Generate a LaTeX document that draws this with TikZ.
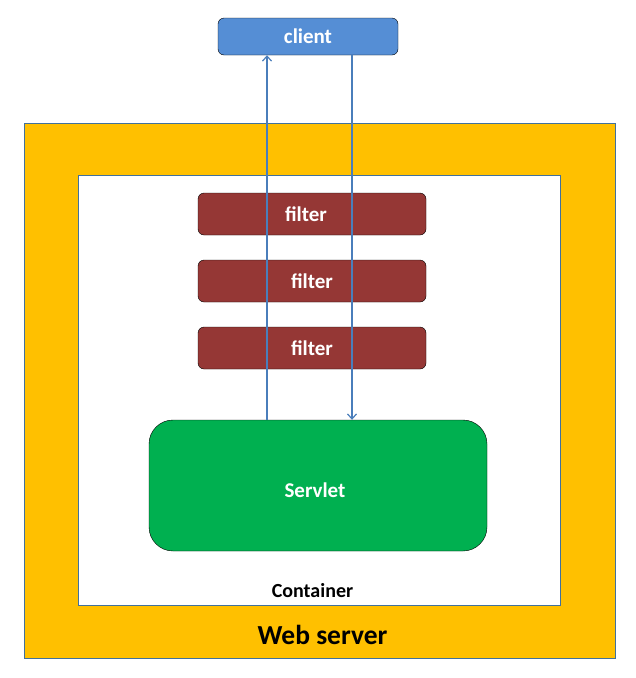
\documentclass[tikz,border=0pt]{standalone}
\usepackage{fontspec}
\setmainfont{Carlito}
\usetikzlibrary{arrows.meta}
\definecolor{clientblue}{HTML}{558ED5}
\definecolor{filterred}{HTML}{953735}
\definecolor{servletgreen}{HTML}{00B050}
\definecolor{serveryellow}{HTML}{FFC000}
\definecolor{edgeblue}{HTML}{41719C}
\definecolor{arrowblue}{HTML}{4A7EBB}
\begin{document}
\begin{tikzpicture}[x=1pt, y=-1pt,
    box/.style={draw=black, rounded corners=6pt, text=white, font=\bfseries\fontsize{21}{24}\selectfont, inner sep=0pt},
    filterbox/.style={box, fill=filterred, minimum width=228pt, minimum height=42pt},
    flow/.style={draw=arrowblue, line width=1.2pt, -{Straight Barb[length=5pt, width=9pt]}}]
    \useasboundingbox (0,0) rectangle (636,678);
    \draw[edgeblue, fill=serveryellow] (24,123) rectangle (615,658);
    \draw[edgeblue, fill=white] (78,175) rectangle (560,605);
    \node[box, fill=clientblue, minimum width=180pt, minimum height=37pt] (client) at (308,36.5) {client};
    \node[filterbox] (filter1) at (312,214) {\hspace*{-12pt}filter};
    \node[filterbox] (filter2) at (312,281) {filter};
    \node[filterbox] (filter3) at (312,348) {filter};
    \node[box, fill=servletgreen, rounded corners=24pt, minimum width=338pt, minimum height=131pt] (servlet) at (318,485.5) {\hspace*{-6pt}\raisebox{-5pt}[\height][\depth]{Servlet}};
    \node[font=\bfseries\fontsize{20}{24}\selectfont] (container) at (312.5,591) {Container};
    \node[font=\bfseries\fontsize{27.5}{32}\selectfont] (webserver) at (322.5,635) {Web server};
    \coordinate (up) at (267,0);
    \coordinate (down) at (352,0);
    \draw[flow] (servlet.north -| up) -- (client.south -| up);
    \draw[flow] (client.south -| down) -- (servlet.north -| down);
\end{tikzpicture}
\end{document}
